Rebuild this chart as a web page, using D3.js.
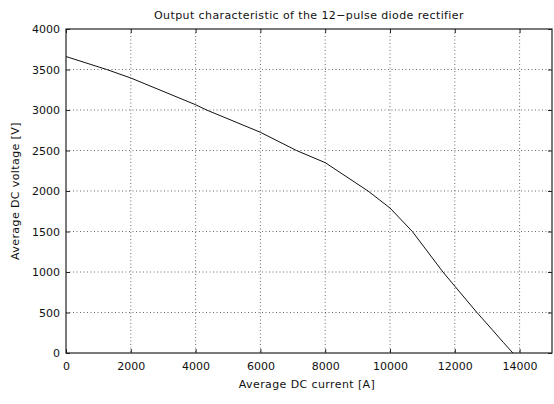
<!DOCTYPE html>
<html>
<head>
<meta charset="utf-8">
<script src="https://cdn.jsdelivr.net/npm/d3@7"></script>
<style>
  body { margin: 0; background: #fff; }
  text { font-family: "DejaVu Sans", sans-serif; fill: #111; }
</style>
</head>
<body>
<svg id="chart" width="554" height="404"></svg>
<script>
// Output characteristic
const current = [0, 1256, 2000, 4000, 4340, 6000, 7114, 8000, 9322, 10000, 10690, 11634, 12000, 12683, 13000, 13500, 13793];
const voltage = [3660, 3500, 3395, 3065, 3000, 2725, 2500, 2350, 2000, 1790, 1500, 1000, 825, 500, 358, 130, 0];

const xTicks = [0, 2000, 4000, 6000, 8000, 10000, 12000, 14000];
const yTicks = [0, 500, 1000, 1500, 2000, 2500, 3000, 3500, 4000];

const svg = d3.select('#chart');
const margin = { left: 66, top: 29, right: 2, bottom: 51 };
const width = 554 - margin.left - margin.right;
const height = 404 - margin.top - margin.bottom;

const x = d3.scaleLinear().domain([0, 15000]).range([0, width]);
const y = d3.scaleLinear().domain([0, 4000]).range([height, 0]);

const g = svg.append('g').attr('transform', `translate(${margin.left},${margin.top})`);

// dotted grid
g.selectAll('.vgrid')
    .data(xTicks.filter(d => d > 0))
    .enter().append('line')
    .attr('x1', d => x(d)).attr('x2', d => x(d))
    .attr('y1', 0).attr('y2', height)
    .attr('stroke', '#444').attr('stroke-width', 0.8)
    .attr('stroke-dasharray', '1,2.5');

g.selectAll('.hgrid')
    .data(yTicks.filter(d => d > 0 && d < 4000))
    .enter().append('line')
    .attr('x1', 0).attr('x2', width)
    .attr('y1', d => y(d)).attr('y2', d => y(d))
    .attr('stroke', '#444').attr('stroke-width', 0.8)
    .attr('stroke-dasharray', '1,2.5');

// axes (ticks point inward like matlab)
g.append('g').attr('transform', `translate(0,${height})`)
    .call(d3.axisBottom(x).tickValues(xTicks).tickSize(-4).tickPadding(9).tickFormat(d3.format('d')));
g.append('g')
    .call(d3.axisLeft(y).tickValues(yTicks).tickSize(-4).tickPadding(6).tickFormat(d3.format('d')));

g.append('g').call(d3.axisTop(x).tickValues(xTicks).tickSize(-4).tickFormat(''));
g.append('g').attr('transform', `translate(${width},0)`)
    .call(d3.axisRight(y).tickValues(yTicks).tickSize(-4).tickFormat(''));

g.selectAll('.domain').remove();
g.selectAll('.tick line').attr('stroke', '#222');
g.selectAll('.tick text').style('font-size', '11px').attr('fill', '#111');

// box
g.append('rect')
    .attr('width', width).attr('height', height)
    .attr('fill', 'none').attr('stroke', '#222').attr('stroke-width', 1.2);

// curve
const line = d3.line()
    .x((d, i) => x(current[i]))
    .y(d => y(d));

g.append('path')
    .datum(voltage)
    .attr('d', line)
    .attr('fill', 'none')
    .attr('stroke', '#111')
    .attr('stroke-width', 1);

// labels
svg.append('text')
    .attr('x', margin.left + width / 2).attr('y', 19)
    .attr('text-anchor', 'middle')
    .style('font-size', '11px')
    .style('letter-spacing', '0.4px')
    .text('Output characteristic of the 12\u2212pulse diode rectifier');

svg.append('text')
    .attr('x', margin.left + width / 2 - 2).attr('y', 388)
    .attr('text-anchor', 'middle')
    .style('font-size', '11px')
    .style('letter-spacing', '0.4px')
    .text('Average DC current [A]');

svg.append('text')
    .attr('transform', `translate(19,${margin.top + height / 2}) rotate(-90)`)
    .attr('text-anchor', 'middle')
    .style('font-size', '11px')
    .style('letter-spacing', '0.4px')
    .text('Average DC voltage [V]');
</script>
</body>
</html>
